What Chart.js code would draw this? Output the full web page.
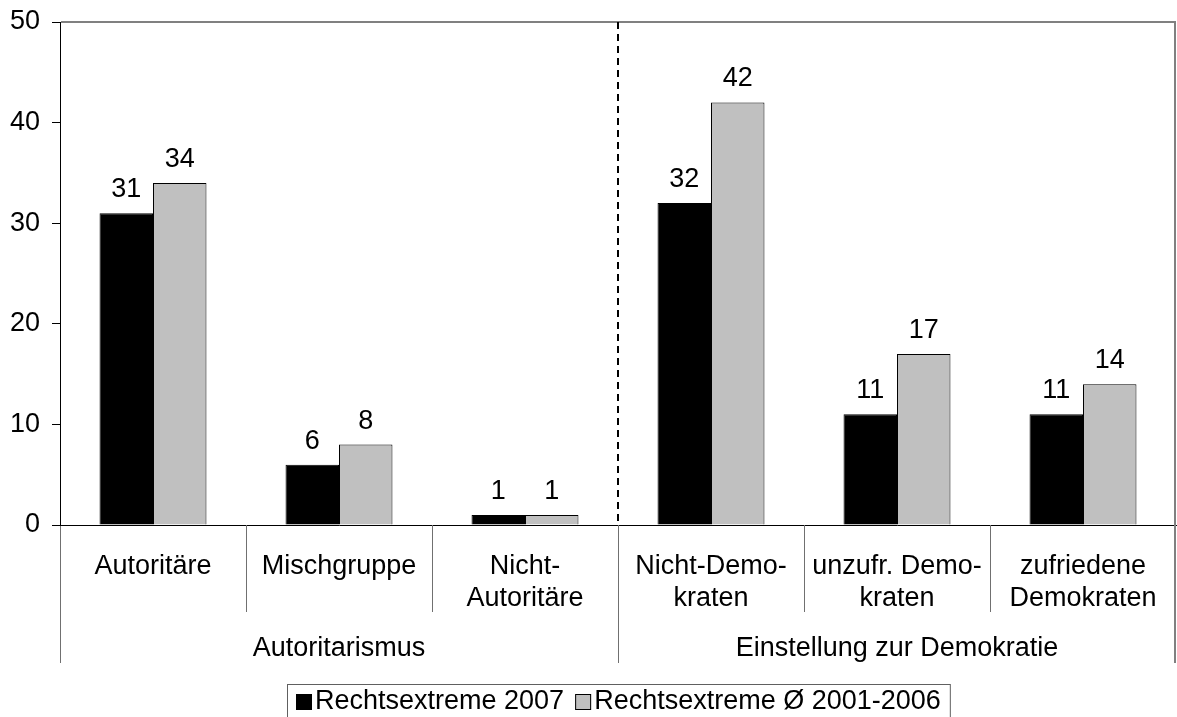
<!DOCTYPE html>
<html lang="de">
<head>
<meta charset="utf-8">
<title>Rechtsextreme nach Autoritarismus und Demokratieeinstellung</title>
<script src="https://cdn.jsdelivr.net/npm/chart.js@4/dist/chart.umd.min.js"></script>
<style>
    html, body { margin: 0; padding: 0; background: #fff; }
    #wrap { width: 1177px; height: 717px; position: relative; }
</style>
</head>
<body>
<div id="wrap"><canvas id="rechtsChart"></canvas></div>
<script>
// Kategorien (mehrzeilige Beschriftungen) und Obergruppen
const categories = [
    ['Autoritäre'],
    ['Mischgruppe'],
    ['Nicht-', 'Autoritäre'],
    ['Nicht-Demo-', 'kraten'],
    ['unzufr. Demo-', 'kraten'],
    ['zufriedene', 'Demokraten']
];
const groupNames = ['Autoritarismus', 'Einstellung zur Demokratie'];
const groupSizes = [3, 3];

// Werte in Prozent
const values2007 = [31, 6, 1, 32, 11, 11];
const valuesAvg = [34, 8, 1, 42, 17, 14];
const seriesLabels = ['Rechtsextreme 2007', 'Rechtsextreme Ø 2001-2006'];

// y-Achse
const yMin = 0;
const yMax = 50;
const yStep = 10;

const FONT = '"Liberation Sans", Arial, sans-serif';
const FONT_SIZE = 27;

// Beschriftung der Balken mit ihrem Wert
const valueLabels = {
    id: 'valueLabels',
    afterDatasetsDraw(chart) {
        const ctx = chart.ctx;
        ctx.save();
        ctx.font = FONT_SIZE + 'px ' + FONT;
        ctx.fillStyle = '#000';
        ctx.textAlign = 'center';
        ctx.textBaseline = 'alphabetic';
        chart.data.datasets.forEach((ds, i) => {
            chart.getDatasetMeta(i).data.forEach((bar, j) => {
                ctx.fillText(String(ds.data[j]), bar.x, bar.y - 16);
            });
        });
        ctx.restore();
    }
};

// Rahmen, Trennlinien, Gruppentitel und Legende
const frameAndGroups = {
    id: 'frameAndGroups',
    afterDraw(chart) {
        const ctx = chart.ctx;
        const area = chart.chartArea;
        const x = chart.scales.x;
        const step = x.getPixelForValue(1) - x.getPixelForValue(0);
        const bottom = x.bottom;

        ctx.save();
        ctx.lineWidth = 2;
        ctx.strokeStyle = '#808080';

        // oberer und rechter Rand der Zeichenfläche
        ctx.beginPath();
        ctx.moveTo(area.left + 1, area.top);
        ctx.lineTo(area.right - 1, area.top);
        ctx.lineTo(area.right - 1, bottom);
        ctx.stroke();

        // Trennlinien unter der Achse
        ctx.lineWidth = 1;
        ctx.strokeStyle = '#707070';
        let idx = 0;
        const groupEdges = [x.getPixelForValue(0) - step / 2];
        groupSizes.forEach(size => {
            for (let k = 1; k < size; k++) {
                const px = Math.round(x.getPixelForValue(idx + k) - step / 2) + 0.5;
                ctx.beginPath();
                ctx.moveTo(px, area.bottom);
                ctx.lineTo(px, area.bottom + 87);
                ctx.stroke();
            }
            idx += size;
            groupEdges.push(x.getPixelForValue(idx - 1) + step / 2);
        });
        groupEdges.forEach((edge, k) => {
            if (k === 0 || k === groupEdges.length - 1) return;
            const px = Math.round(edge) + 0.5;
            ctx.beginPath();
            ctx.moveTo(px, area.bottom);
            ctx.lineTo(px, bottom);
            ctx.stroke();
        });
        // linke Achse bis zur Unterkante verlängert
        ctx.beginPath();
        ctx.moveTo(area.left + 0.5, area.bottom + 1);
        ctx.lineTo(area.left + 0.5, bottom);
        ctx.stroke();

        // gestrichelte Linie zwischen den Gruppen
        ctx.strokeStyle = '#000';
        ctx.lineWidth = 2;
        ctx.setLineDash([7, 5]);
        for (let k = 1; k < groupEdges.length - 1; k++) {
            const px = Math.round(groupEdges[k]);
            ctx.beginPath();
            ctx.moveTo(px, area.top);
            ctx.lineTo(px, area.bottom);
            ctx.stroke();
        }
        ctx.setLineDash([]);

        // Gruppentitel
        ctx.font = FONT_SIZE + 'px ' + FONT;
        ctx.fillStyle = '#000';
        ctx.textAlign = 'center';
        ctx.textBaseline = 'middle';
        groupNames.forEach((name, k) => {
            ctx.fillText(name, (groupEdges[k] + groupEdges[k + 1]) / 2, area.bottom + 124);
        });

        // Legende mit Rahmen
        const box = 16, gap = 3, itemGap = 11, pad = 9;
        const widths = chart.data.datasets.map(ds => ctx.measureText(ds.label).width);
        let total = pad * 2;
        widths.forEach((w, k) => { total += box + gap + w + (k > 0 ? itemGap : 0); });
        const left = Math.round((area.left + area.right) / 2 - total / 2);
        const top = 684;
        ctx.lineWidth = 1;
        ctx.strokeStyle = '#606060';
        ctx.strokeRect(left + 0.5, top + 0.5, total, 40);
        let cx = left + pad;
        const cy = top + 18;
        ctx.textAlign = 'left';
        ctx.strokeStyle = '#000';
        chart.data.datasets.forEach((ds, k) => {
            if (k > 0) cx += itemGap;
            ctx.fillStyle = ds.backgroundColor;
            ctx.fillRect(cx, cy - box / 2, box, box);
            ctx.strokeRect(cx + 0.5, cy - box / 2 + 0.5, box - 1, box - 1);
            cx += box + gap;
            ctx.fillStyle = '#000';
            ctx.fillText(ds.label, cx, cy);
            cx += widths[k];
        });
        ctx.restore();
    }
};

const ctx = document.getElementById('rechtsChart').getContext('2d');
new Chart(ctx, {
    type: 'bar',
    data: {
        labels: categories,
        datasets: [{
            label: seriesLabels[0],
            data: values2007,
            backgroundColor: '#000000',
            borderColor: '#000000',
            borderWidth: 1,
            categoryPercentage: 0.575,
            barPercentage: 1.0
        }, {
            label: seriesLabels[1],
            data: valuesAvg,
            backgroundColor: '#c0c0c0',
            borderColor: '#000000',
            borderWidth: 1,
            categoryPercentage: 0.575,
            barPercentage: 1.0
        }]
    },
    options: {
        responsive: true,
        maintainAspectRatio: false,
        animation: false,
        layout: {
            padding: { top: 22, right: 1, bottom: 54, left: 0 }
        },
        scales: {
            x: {
                afterFit(scale) { scale.height = 138; },
                grid: { display: false },
                border: { display: true, color: '#000', width: 1 },
                ticks: {
                    color: '#000',
                    padding: 17,
                    maxRotation: 0,
                    autoSkip: false,
                    font: { family: FONT, size: FONT_SIZE, lineHeight: 1.2 }
                }
            },
            y: {
                min: yMin,
                max: yMax,
                afterFit(scale) {
                    scale.width = 60;
                    // oberer Rand kommt allein aus layout.padding
                    scale.paddingTop = 0;
                    scale.paddingBottom = 0;
                },
                grid: { drawOnChartArea: false, drawTicks: true, tickLength: 8, color: '#000' },
                border: { display: true, color: '#000', width: 1 },
                ticks: {
                    stepSize: yStep,
                    color: '#000',
                    padding: 12,
                    font: { family: FONT, size: FONT_SIZE }
                }
            }
        },
        plugins: {
            legend: { display: false },
            tooltip: { enabled: false }
        }
    },
    plugins: [valueLabels, frameAndGroups]
});
</script>
</body>
</html>
